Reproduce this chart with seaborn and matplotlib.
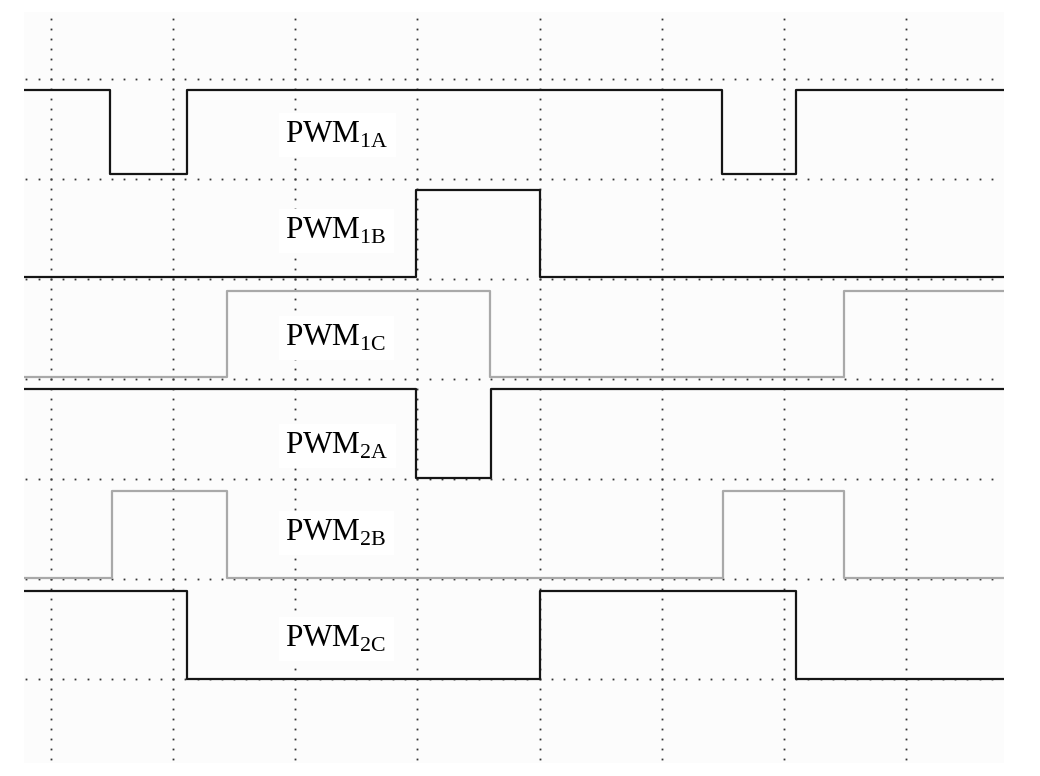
import numpy as np
import pandas as pd
import matplotlib
matplotlib.use('Agg')
import matplotlib.pyplot as plt
import seaborn as sns

# Scope screen, units = divisions (x: time, y: volts)
t_start, t_end = -0.22, 7.80
y_bottom, y_top = -0.84, 6.67

signals = ['PWM1A', 'PWM1B', 'PWM1C', 'PWM2A', 'PWM2B', 'PWM2C']
labels = [r'PWM$_\mathrm{1A}$', r'PWM$_\mathrm{1B}$', r'PWM$_\mathrm{1C}$',
          r'PWM$_\mathrm{2A}$', r'PWM$_\mathrm{2B}$', r'PWM$_\mathrm{2C}$']

# switching instants of each channel
pwm1a_edges = [0.48, 1.11, 5.49, 6.10]
pwm1b_edges = [2.99, 4.00]
pwm1c_edges = [1.44, 3.59, 6.49]
pwm2a_edges = [2.99, 3.60]
pwm2b_edges = [0.50, 1.44, 5.50, 6.49]
pwm2c_edges = [1.11, 4.00, 6.10]

# (level at start, other level)
pwm1a_lvl = [5.89, 5.05]
pwm1b_lvl = [4.02, 4.89]
pwm1c_lvl = [3.02, 3.88]
pwm2a_lvl = [2.90, 2.01]
pwm2b_lvl = [1.01, 1.88]
pwm2c_lvl = [0.88, 0.00]

# label anchor (left, baseline)
label_x = [1.92, 1.92, 1.92, 1.92, 1.92, 1.92]
label_y = [5.36, 4.40, 3.33, 2.25, 1.38, 0.32]

COLORS = {'PWM1A': '#151515', 'PWM1B': '#151515', 'PWM1C': '#a9a9a9',
          'PWM2A': '#151515', 'PWM2B': '#a9a9a9', 'PWM2C': '#151515'}

edges = [pwm1a_edges, pwm1b_edges, pwm1c_edges, pwm2a_edges, pwm2b_edges, pwm2c_edges]
levels = [pwm1a_lvl, pwm1b_lvl, pwm1c_lvl, pwm2a_lvl, pwm2b_lvl, pwm2c_lvl]

rows = []
for name, e, lv in zip(signals, edges, levels):
    ts = [t_start] + e + [t_end]
    for i, t in enumerate(ts):
        k = min(i, len(ts) - 2)
        rows.append({'signal': name, 't': t, 'v': lv[k % 2]})
df = pd.DataFrame(rows)

sns.set_style('white')
plt.rcParams['font.family'] = ['Liberation Serif', 'DejaVu Serif']
plt.rcParams['mathtext.fontset'] = 'custom'
plt.rcParams['mathtext.rm'] = 'Liberation Serif'

fig = plt.figure(figsize=(10.4, 7.76), dpi=100)
fig.patch.set_facecolor('white')
ax = fig.add_axes([24 / 1040, 13 / 776, 980 / 1040, 751 / 776])
ax.set_facecolor('#fcfcfc')

# dotted graticule
dot_y = np.arange(-0.8, 6.7, 0.1)
dot_x = np.arange(-0.2, 7.8, 0.1)
for gx in range(8):
    ax.plot(np.full_like(dot_y, gx), dot_y, ls='none', marker='s',
            ms=1.3, color='#333333', mew=0, zorder=1)
for gy in range(7):
    ax.plot(dot_x, np.full_like(dot_x, gy), ls='none', marker='s',
            ms=1.3, color='#333333', mew=0, zorder=1)

sns.lineplot(data=df, x='t', y='v', hue='signal', units='signal',
             estimator=None, sort=False, palette=COLORS,
             drawstyle='steps-post', linewidth=1.6, legend=False, ax=ax, zorder=3)

for lab, lx, ly in zip(labels, label_x, label_y):
    ax.text(lx, ly, lab, fontsize=22.5, ha='left', va='baseline', zorder=2,
            color='black',
            bbox=dict(facecolor='white', edgecolor='none', pad=5))

ax.set_xlim(t_start, t_end)
ax.set_ylim(y_bottom, y_top)
ax.set_xticks([])
ax.set_yticks([])
ax.set_xlabel('')
ax.set_ylabel('')
for sp in ax.spines.values():
    sp.set_visible(False)

fig.savefig('out.png', dpi=100, facecolor='white')
